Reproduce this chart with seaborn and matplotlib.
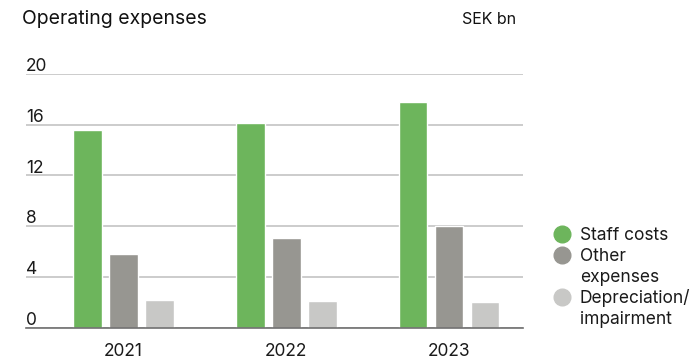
import matplotlib
matplotlib.use("Agg")
import matplotlib.pyplot as plt
import seaborn as sns
import pandas as pd
from matplotlib.lines import Line2D
import matplotlib.transforms as mtransforms

years = ["2021", "2022", "2023"]
series = ["Staff costs", "Other expenses", "Depreciation/impairment"]
legend_lines = [["Staff costs"], ["Other", "expenses"], ["Depreciation/", "impairment"]]
staff_costs = [15.6, 16.1, 17.8]
other_expenses = [5.8, 7.1, 8.0]
depreciation = [2.2, 2.1, 2.0]
yticks = [0, 4, 8, 12, 16, 20]
colors = ["#6db55c", "#979691", "#c8c8c6"]

df = pd.DataFrame({
    "year": years * 3,
    "series": [series[0]] * 3 + [series[1]] * 3 + [series[2]] * 3,
    "value": staff_costs + other_expenses + depreciation,
})

sns.set_theme(style="white")
plt.rcParams["font.family"] = ["Inter", "DejaVu Sans"]

fig = plt.figure(figsize=(6.97, 3.59), dpi=100)
ax = fig.add_axes([26 / 697, 1 - 327.5 / 359, (523 - 26) / 697, (327.5 - 74) / 359])

sns.barplot(data=df, x="year", y="value", hue="series", hue_order=series,
            palette=colors, width=0.663, gap=0.2, ax=ax, legend=False,
            saturation=1, errorbar=None)

ax.set_ylim(0, 20)
ax.set_xlim(-0.598, 2.454)
ax.set_yticks(yticks)
ax.yaxis.grid(True, color="#c4c4c4", linewidth=1.2)
ax.set_axisbelow(True)
ax.tick_params(axis="y", length=0, labelleft=False)
ax.tick_params(axis="x", length=0, labelsize=12.5, pad=11, colors="#1a1a1a")
for s in ["top", "right", "left"]:
    ax.spines[s].set_visible(False)
ax.spines["bottom"].set_color("#6f6f6f")
ax.spines["bottom"].set_linewidth(1.2)
ax.set_xlabel("")
ax.set_ylabel("")

trans = mtransforms.blended_transform_factory(ax.transAxes, ax.transData)
for t in yticks:
    ax.text(0.0, t + 0.22, str(t), transform=trans, ha="left", va="baseline",
            fontsize=12.5, color="#1a1a1a")

fig.text(22 / 697, 1 - 19 / 359, "Operating expenses", ha="left", va="center",
         fontsize=14, color="#111111")
fig.text(516 / 697, 1 - 20 / 359, "SEK bn", ha="right", va="center",
         fontsize=11.5, color="#111111")

handles = []
labels = []
for c, lines in zip(colors, legend_lines):
    for i, line in enumerate(lines):
        if i == 0:
            handles.append(Line2D([0], [0], marker="o", linestyle="", markersize=12,
                                  markerfacecolor=c, markeredgecolor=c))
        else:
            handles.append(Line2D([0], [0], marker="", linestyle=""))
        labels.append(line)

leg = fig.legend(handles, labels, loc="upper left",
                 bbox_to_anchor=(553 / 697, 1 - 227 / 359), frameon=False,
                 fontsize=12.5, handletextpad=0.55, labelspacing=0.22,
                 handlelength=1.0, borderaxespad=0, borderpad=0)
for txt in leg.get_texts():
    txt.set_color("#1a1a1a")

fig.savefig("out.png", dpi=100)
